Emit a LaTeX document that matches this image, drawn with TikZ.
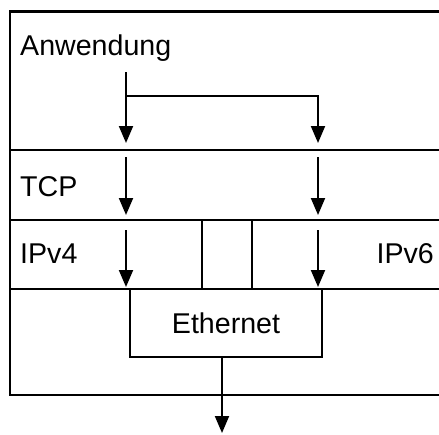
\documentclass[tikz,border=0pt]{standalone}
\usepackage{fontspec}
\setmainfont{Liberation Sans}
\usetikzlibrary{arrows.meta}
\begin{document}
\begin{tikzpicture}[x=1pt,y=-1pt,
  frame/.style={line width=2.6pt},
  flow/.style={line width=2pt,-{Triangle[width=14pt,length=17pt]}},
  lbl/.style={inner sep=0pt,font=\fontsize{28.6}{34}\selectfont}]
\useasboundingbox (0,0) rectangle (439,434);

% layer frame, open to the right
\draw[frame] (439,11.7) -- (10,11.7) -- (10,395) -- (439,395);
\draw[frame] (10,150) -- (439,150);
\draw[frame] (10,220) -- (439,220);
\draw[frame] (10,289) -- (439,289);
% separators in the IP row
\draw[frame] (202,220) -- (202,289);
\draw[frame] (252,220) -- (252,289);

% layer labels
\node[lbl,anchor=base west] (app)  at (20,55)  {Anwendung};
\node[lbl,anchor=base west] (tcp)  at (20,196) {TCP};
\node[lbl,anchor=base west] (ipv4) at (20,263) {IPv4};
\node[lbl,anchor=base east] (ipv6) at (434,263) {IPv6};
\node[lbl,draw,line width=2.6pt,minimum width=192pt,minimum height=68pt]
  (eth) at (226,323) {};
\node[lbl,anchor=base] (ethtxt) at (226,333) {Ethernet};

% arrow end points
\coordinate (a0) at (126,72);
\coordinate (a1) at (126,143);
\coordinate (br) at (126,96);
\coordinate (bk) at (318,96);
\coordinate (b1) at (318,143);
\coordinate (t0) at (126,157);
\coordinate (t1) at (126,215);
\coordinate (u0) at (318,157);
\coordinate (u1) at (318,215);
\coordinate (i0) at (126,230);
\coordinate (i1) at (126,287);
\coordinate (j0) at (318,230);
\coordinate (j1) at (318,287);
\coordinate (out) at (222,433);

% data paths
\draw[flow] (a0) -- (a1);
\draw[flow] (br) -- (bk) -- (b1);
\draw[flow] (t0) -- (t1);
\draw[flow] (u0) -- (u1);
\draw[flow] (i0) -- (i1);
\draw[flow] (j0) -- (j1);
\draw[flow] (eth.south -| out) -- (out);
\end{tikzpicture}
\end{document}
